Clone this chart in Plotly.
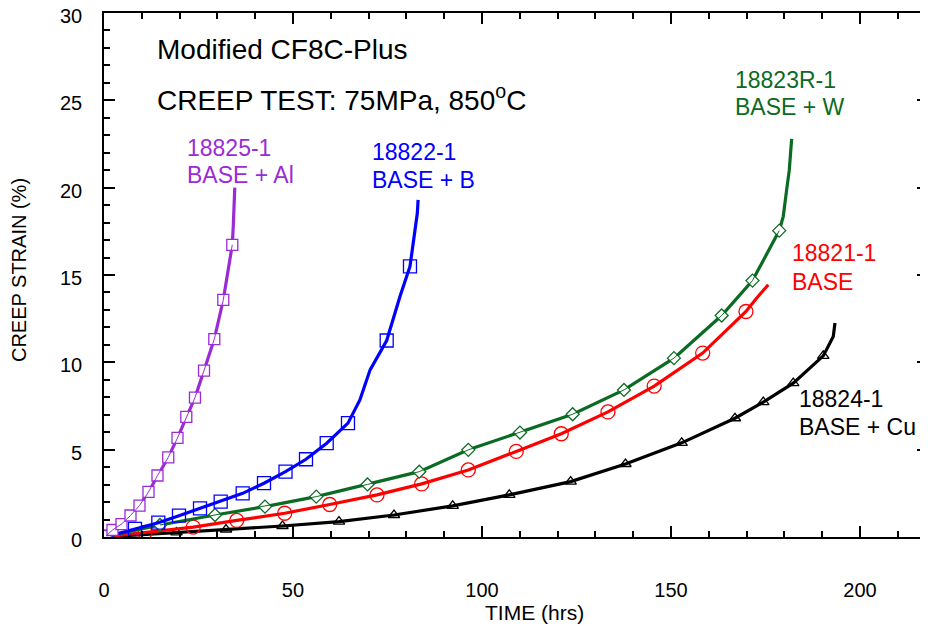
import plotly.graph_objects as go

# ---------------- data (time in hrs, creep strain in %) ----------------
al_t = [0.5, 2.25, 4.63, 7.01, 9.39, 11.77, 14.15, 17.0, 19.44, 21.77, 24.07, 26.46, 29.18, 31.56, 33.94]
al_s = [0.05, 0.40, 0.74, 1.23, 1.80, 2.58, 3.52, 4.56, 5.67, 6.88, 7.98, 9.53, 11.33, 13.58, 16.73]
al_tail_t = [34.2, 34.5, 34.6]
al_tail_s = [17.8, 19.0, 20.0]

b_t = [0.71, 8.2, 14.37, 19.84, 25.4, 30.87, 36.69, 42.33, 48.02, 53.44, 58.92, 64.55, 74.79, 80.95]
b_s = [0.02, 0.46, 0.82, 1.22, 1.64, 2.02, 2.50, 3.08, 3.74, 4.45, 5.37, 6.52, 11.25, 15.49]
b_line_t = [0, 0.71, 8.2, 14.37, 19.84, 25.4, 30.87, 36.69, 42.33, 48.02, 53.44, 58.92, 64.55,
            67.7, 70.4, 74.79, 78.3, 80.95, 82.3, 82.9, 83.1]
b_line_s = [0, 0.02, 0.46, 0.82, 1.22, 1.64, 2.02, 2.50, 3.08, 3.74, 4.45, 5.37, 6.52,
            7.85, 9.57, 11.25, 13.77, 15.49, 17.6, 18.55, 19.3]

w_t = [14.81, 29.37, 42.59, 56.16, 69.71, 83.41, 96.38, 110.05, 123.99, 137.57, 150.79, 163.41, 171.56, 178.65]
w_s = [0.69, 1.26, 1.74, 2.31, 3.01, 3.74, 4.99, 5.98, 7.03, 8.42, 10.24, 12.68, 14.68, 17.54]
w_tail_t = [179.71, 180.61, 181.3, 181.93]
w_tail_s = [18.36, 19.89, 21.0, 22.79]

base_t = [10.85, 23.62, 35.11, 47.8, 59.71, 72.22, 84.05, 96.38, 109.07, 120.98, 133.33, 145.56, 158.39, 169.84]
base_s = [0.26, 0.57, 0.95, 1.36, 1.86, 2.41, 3.04, 3.84, 4.90, 5.91, 7.16, 8.64, 10.53, 12.91]
base_tail_t = [172.75, 175.74]
base_tail_s = [13.70, 14.44]

cu_t = [19.18, 32.28, 47.22, 62.17, 76.72, 92.25, 107.22, 123.46, 137.96, 152.83, 166.93, 174.42, 182.35, 190.29]
cu_s = [0.26, 0.43, 0.63, 0.88, 1.26, 1.78, 2.41, 3.17, 4.18, 5.39, 6.80, 7.72, 8.81, 10.37]
cu_tail_t = [192.94, 193.39]
cu_tail_s = [11.48, 12.25]

x_ticks = [0, 50, 100, 150, 200]
y_ticks = [0, 5, 10, 15, 20, 25, 30]

PURPLE = "#9A2BD6"
BLUE = "#0000FF"
GREEN = "#0B6B23"
RED = "#FF0000"
BLACK = "#000000"
FONT = "Liberation Sans, Arial, sans-serif"

fig = go.Figure()


def add_series(t, s, line_t, line_s, color, symbol, size, filled, thin_on_top, lw=3.2):
    fig.add_trace(go.Scatter(x=line_t, y=line_s, mode="lines",
                             line=dict(color=color, width=lw), hoverinfo="skip", showlegend=False))
    fig.add_trace(go.Scatter(x=t, y=s, mode="markers",
                             marker=dict(symbol=symbol, size=size,
                                         color="white" if filled else "rgba(0,0,0,0)",
                                         line=dict(color=color, width=1.3)),
                             showlegend=False))
    if thin_on_top:
        fig.add_trace(go.Scatter(x=t, y=s, mode="lines",
                                 line=dict(color=color, width=1), hoverinfo="skip", showlegend=False))


add_series(cu_t, cu_s, [0] + cu_t + cu_tail_t, [0] + cu_s + cu_tail_s, BLACK, "triangle-up", 10, False, False)
add_series(base_t, base_s, [0] + base_t + base_tail_t, [0] + base_s + base_tail_s, RED, "circle", 14, False, False)
add_series(w_t, w_s, [0] + w_t + w_tail_t, [0] + w_s + w_tail_s, GREEN, "diamond", 10, True, True)
add_series(b_t, b_s, b_line_t, b_line_s, BLUE, "square", 13, False, False)
add_series(al_t, al_s, [0] + al_t + al_tail_t, [0] + al_s + al_tail_s, PURPLE, "square", 11, True, True)

labels = [
    ("Modified CF8C-Plus", 13.5, 27.9, BLACK, 28),
    ("CREEP TEST: 75MPa, 850<sup>o</sup>C", 13.5, 25.13, BLACK, 28),
    ("18825-1", 21.4, 22.29, PURPLE, 23),
    ("BASE + Al", 21.4, 20.75, PURPLE, 23),
    ("18822-1", 70.4, 22.06, BLUE, 23),
    ("BASE + B", 70.4, 20.46, BLUE, 23),
    ("18823R-1", 166.4, 26.19, GREEN, 23),
    ("BASE + W", 166.4, 24.6, GREEN, 23),
    ("18821-1", 181.5, 16.27, RED, 23),
    ("BASE", 181.5, 14.61, RED, 23),
    ("18824-1", 183.3, 7.91, BLACK, 23),
    ("BASE + Cu", 183.3, 6.30, BLACK, 23),
]
for txt, x, y, c, fs in labels:
    fig.add_annotation(x=x, y=y, xref="x", yref="y", text=txt, showarrow=False,
                       xanchor="left", yanchor="middle", font=dict(color=c, size=fs, family=FONT))

# y tick labels (drawn as text next to the axis, a little below each tick as in the original)
for v in y_ticks:
    fig.add_annotation(x=-0.0245, y=v, xref="paper", yref="y", text=str(v), showarrow=False,
                       xanchor="right", yanchor="middle", yshift=-3,
                       font=dict(size=20, color=BLACK, family=FONT))

fig.add_annotation(x=0.522, y=-0.145, xref="paper", yref="paper", text="TIME (hrs)", showarrow=False,
                   xanchor="center", yanchor="middle", font=dict(size=21, color=BLACK, family=FONT))
fig.add_annotation(x=-0.104, y=0.51, xref="paper", yref="paper", text="CREEP STRAIN (%)", showarrow=False,
                   textangle=-90, xanchor="center", yanchor="middle",
                   font=dict(size=20, color=BLACK, family=FONT))

axis_common = dict(showline=True, linecolor=BLACK, linewidth=2, mirror="ticks", ticks="inside",
                   tickcolor=BLACK, tickwidth=2, ticklen=11, showgrid=False, zeroline=False,
                   automargin=False, tickfont=dict(size=20, color=BLACK, family=FONT))

# the page body has an 8px margin, so the figure is sized/offset to compensate
fig.update_layout(
    width=920, height=619,
    margin=dict(l=96, r=0, t=5, b=90),
    paper_bgcolor="white", plot_bgcolor="white",
    showlegend=False,
    xaxis=dict(range=[0, 218], tickvals=x_ticks, ticktext=[str(v) for v in x_ticks],
               minor=dict(dtick=10, ticks="inside", ticklen=6, tickwidth=2, tickcolor=BLACK),
               ticklabelstandoff=34, **axis_common),
    yaxis=dict(range=[0, 30], tickvals=y_ticks, showticklabels=False,
               minor=dict(dtick=1, ticks="inside", ticklen=6, tickwidth=2, tickcolor=BLACK),
               **axis_common),
)

fig.write_html("out.html")
